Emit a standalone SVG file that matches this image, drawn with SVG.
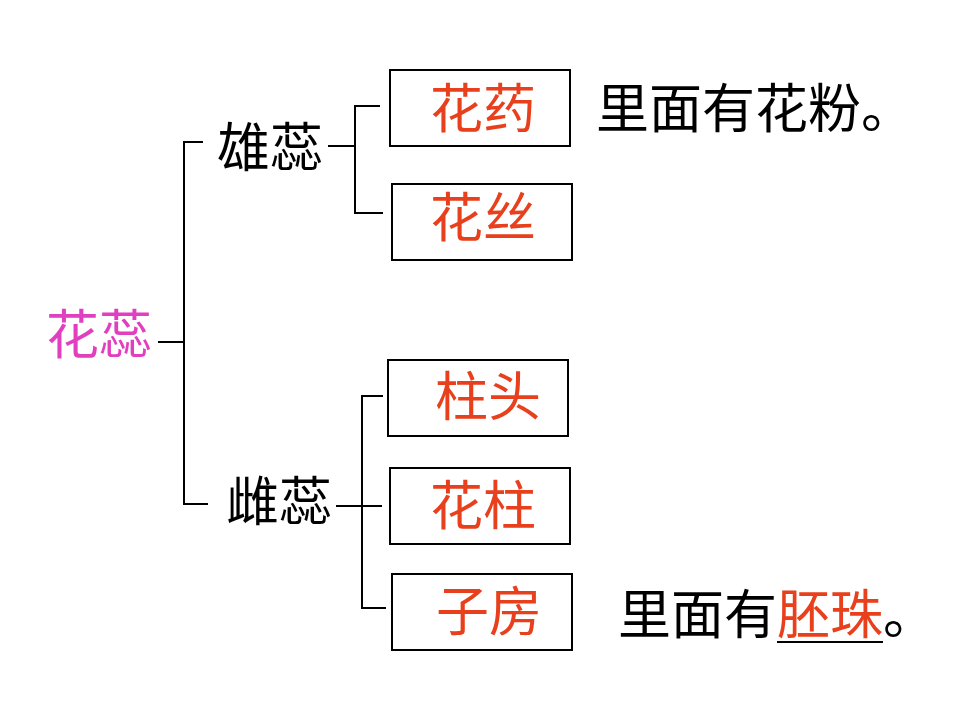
<svg xmlns="http://www.w3.org/2000/svg" width="960" height="720" viewBox="0 0 960 720">
<style>
text{font-family:"Liberation Serif","Noto Sans CJK SC",serif;font-size:53px;dominant-baseline:central}
.box{fill:#fff;stroke:#000;stroke-width:2}
.red{fill:#e8401c}
.blk{fill:#000}
.pink{fill:#e040c0}
.ln{fill:none;stroke:#000;stroke-width:2}
</style>
<rect width="960" height="720" fill="#fff"/>
<g id="connectors">
<path class="ln" d="M158,342H184M203,142H184V504H208"/>
<path class="ln" d="M328,146H355M380,106H355V213H383"/>
<path class="ln" d="M336,506H382M383,396H362V608H386"/>
<path class="ln" d="M777,642H883"/>
</g>
<g id="huarui"><text class="pink" x="46" y="336">花蕊</text></g>
<g id="xiongrui"><text class="blk" x="217" y="149">雄蕊</text></g>
<g id="cirui"><text class="blk" x="226" y="503">雌蕊</text></g>
<g id="huayao"><rect class="box" x="390" y="70" width="180" height="76"/><text class="red" x="430" y="110">花药</text></g>
<g id="huasi"><rect class="box" x="392" y="184" width="180" height="76"/><text class="red" x="430" y="219">花丝</text></g>
<g id="zhutou"><rect class="box" x="388" y="360" width="180" height="76"/><text class="red" x="435" y="398">柱头</text></g>
<g id="huazhu"><rect class="box" x="390" y="468" width="180" height="76"/><text class="red" x="430" y="507">花柱</text></g>
<g id="zifang"><rect class="box" x="392" y="574" width="180" height="76"/><text class="red" x="436" y="613">子房</text></g>
<g id="note1"><text class="blk" x="596" y="110">里面有花粉。</text></g>
<g id="note2"><text class="blk" x="618" y="616">里面有<tspan class="red">胚珠</tspan>。</text></g>
</svg>
